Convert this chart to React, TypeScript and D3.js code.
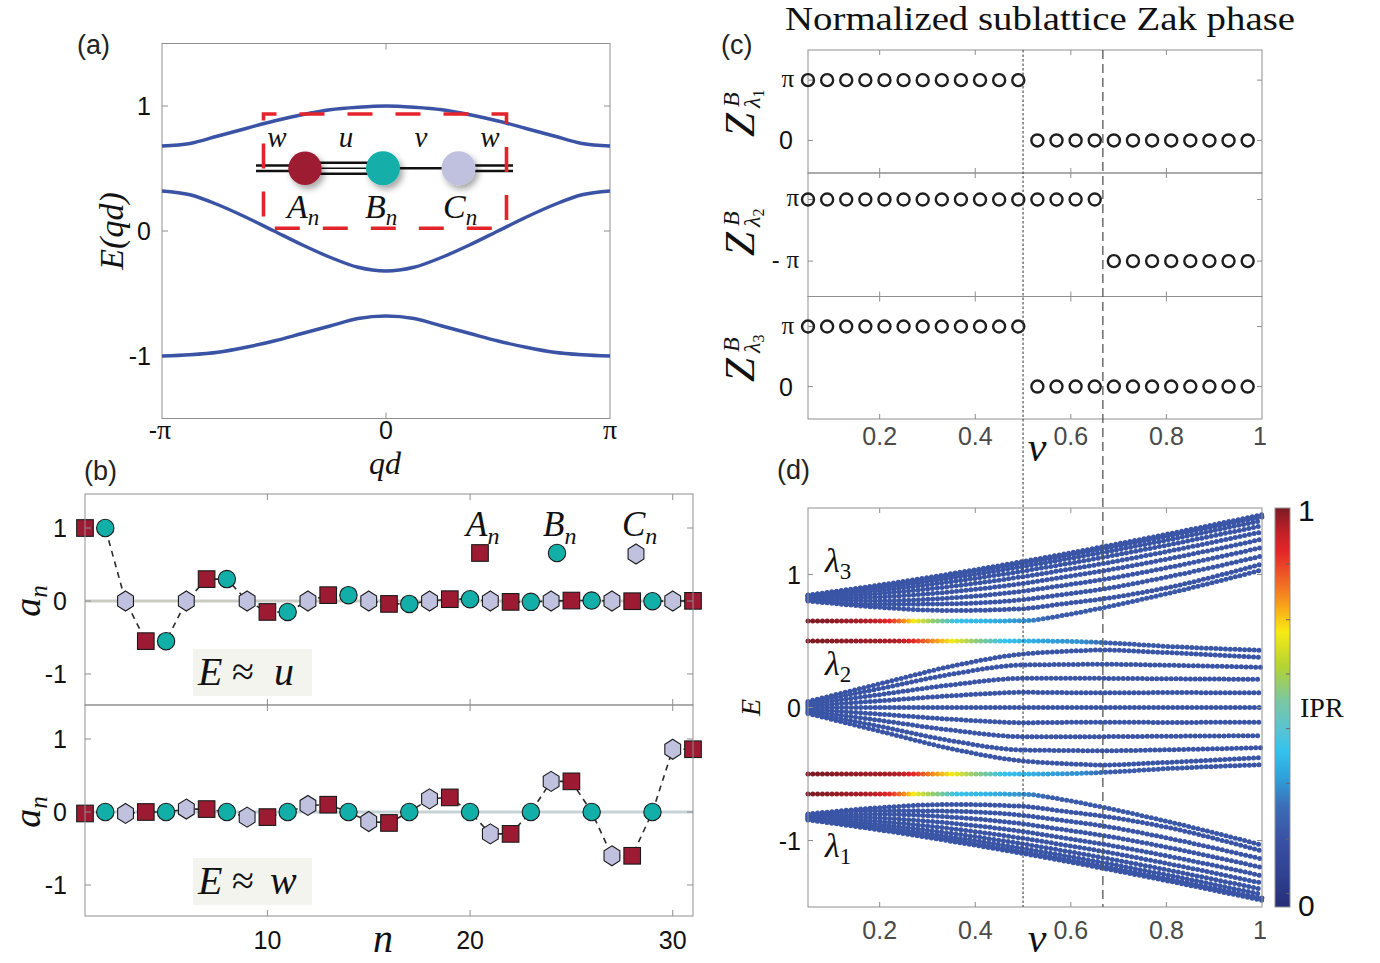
import React from 'react';
import * as d3 from 'd3';

// ---------- (a) bulk bands, qd in units of pi ----------
const qd = [-1, -0.875, -0.75, -0.625, -0.5, -0.375, -0.25, -0.125, 0, 0.125, 0.25, 0.375, 0.5, 0.625, 0.75, 0.875, 1];
const bandTop = [0.68, 0.70, 0.76, 0.82, 0.88, 0.93, 0.97, 0.99, 1.0, 0.99, 0.97, 0.93, 0.88, 0.82, 0.76, 0.70, 0.68];
const bandMid = [0.32, 0.29, 0.21, 0.11, 0.0, -0.11, -0.21, -0.29, -0.32, -0.29, -0.21, -0.11, 0.0, 0.11, 0.21, 0.29, 0.32];
const bandBot = [-1.0, -0.99, -0.97, -0.93, -0.88, -0.82, -0.76, -0.70, -0.68, -0.70, -0.76, -0.82, -0.88, -0.93, -0.97, -0.99, -1.0];

// ---------- (b) edge-mode amplitudes ----------
const sites = [1, 2, 3, 4, 5, 6, 7, 8, 9, 10, 11, 12, 13, 14, 15, 16, 17, 18, 19, 20, 21, 22, 23, 24, 25, 26, 27, 28, 29, 30, 31];
const kinds = 'ABCABCABCABCABCABCABCABCABCABCA'.split('');
const ampU = [1.0, 1.0, 0, -0.55, -0.55, 0, 0.3, 0.3, 0, -0.15, -0.15, 0, 0.08, 0.08, 0, -0.04, -0.04, 0, 0.025, 0.025, 0, -0.012, -0.012, 0, 0.006, 0.006, 0, -0.003, -0.003, 0, 0.002];
const ampW = [-0.02, 0, -0.02, 0.0, 0, 0.04, 0.04, 0, -0.07, -0.07, 0, 0.09, 0.1, 0, -0.13, -0.15, 0, 0.18, 0.2, 0, -0.3, -0.3, 0, 0.42, 0.42, 0, -0.6, -0.6, 0, 0.86, 0.86];

// ---------- (c) sublattice Zak phase (units of pi) ----------
const vZak = [0.05, 0.09, 0.13, 0.17, 0.21, 0.25, 0.29, 0.33, 0.37, 0.41, 0.45, 0.49, 0.53, 0.57, 0.61, 0.65, 0.69, 0.73, 0.77, 0.81, 0.85, 0.89, 0.93, 0.97];
const zak1 = [1, 1, 1, 1, 1, 1, 1, 1, 1, 1, 1, 1, 0, 0, 0, 0, 0, 0, 0, 0, 0, 0, 0, 0];
const zak2 = [1, 1, 1, 1, 1, 1, 1, 1, 1, 1, 1, 1, 1, 1, 1, 1, -1, -1, -1, -1, -1, -1, -1, -1];
const zak3 = [1, 1, 1, 1, 1, 1, 1, 1, 1, 1, 1, 1, 0, 0, 0, 0, 0, 0, 0, 0, 0, 0, 0, 0];
const vCritical = [0.5, 0.667];

// ---------- (d) finite-chain spectrum vs v ----------
const vGrid = [0.05, 0.2, 0.35, 0.5, 0.58, 0.667, 0.8, 1.0];
const bandL3 = [
  [0.845, 0.921, 1.006, 1.098, 1.150, 1.209, 1.302, 1.450],
  [0.842, 0.913, 0.994, 1.084, 1.135, 1.193, 1.286, 1.433],
  [0.837, 0.898, 0.974, 1.060, 1.110, 1.166, 1.258, 1.406],
  [0.832, 0.880, 0.946, 1.026, 1.074, 1.129, 1.220, 1.367],
  [0.825, 0.857, 0.911, 0.984, 1.030, 1.082, 1.172, 1.320],
  [0.818, 0.831, 0.870, 0.933, 0.977, 1.027, 1.115, 1.265],
  [0.812, 0.803, 0.824, 0.875, 0.916, 0.962, 1.050, 1.203],
  [0.806, 0.776, 0.780, 0.811, 0.848, 0.890, 0.980, 1.139],
  [0.801, 0.753, 0.729, 0.743, 0.778, 0.817, 0.900, 1.080],
];
const bandL2 = [
  [0.045, 0.178, 0.310, 0.402, 0.420, 0.432, 0.413, 0.377],
  [0.036, 0.142, 0.250, 0.320, 0.323, 0.325, 0.318, 0.302],
  [0.025, 0.097, 0.170, 0.219, 0.219, 0.219, 0.216, 0.212],
  [0.013, 0.050, 0.088, 0.114, 0.112, 0.111, 0.112, 0.111],
  [0, 0, 0, 0, 0, 0, 0, 0],
  [-0.013, -0.050, -0.088, -0.114, -0.112, -0.111, -0.112, -0.111],
  [-0.025, -0.097, -0.170, -0.219, -0.219, -0.219, -0.216, -0.212],
  [-0.036, -0.142, -0.250, -0.320, -0.323, -0.325, -0.318, -0.302],
  [-0.045, -0.178, -0.310, -0.402, -0.420, -0.432, -0.413, -0.377],
];
const bandL1 = [
  [-0.845, -0.921, -1.006, -1.098, -1.150, -1.209, -1.302, -1.450],
  [-0.842, -0.913, -0.994, -1.084, -1.135, -1.193, -1.286, -1.433],
  [-0.837, -0.898, -0.974, -1.060, -1.110, -1.166, -1.258, -1.406],
  [-0.832, -0.880, -0.946, -1.026, -1.074, -1.129, -1.220, -1.367],
  [-0.825, -0.857, -0.911, -0.984, -1.030, -1.082, -1.172, -1.320],
  [-0.818, -0.831, -0.870, -0.933, -0.977, -1.027, -1.115, -1.265],
  [-0.812, -0.803, -0.824, -0.875, -0.916, -0.962, -1.050, -1.203],
  [-0.806, -0.776, -0.780, -0.811, -0.848, -0.890, -0.980, -1.139],
  [-0.801, -0.753, -0.729, -0.743, -0.778, -0.817, -0.900, -1.080],
];
// edge states: outer (E ~ +-u) and inner (E ~ +-w)
const edgeOuterTop = [0.650, 0.650, 0.650, 0.652, 0.690, 0.750, 0.855, 1.034];
const edgeInnerTop = [0.500, 0.500, 0.500, 0.500, 0.498, 0.488, 0.460, 0.430];
const edgeInnerBot = [-0.500, -0.500, -0.500, -0.500, -0.498, -0.488, -0.460, -0.430];
const edgeOuterBot = [-0.650, -0.650, -0.650, -0.652, -0.690, -0.750, -0.855, -1.034];
// IPR of the edge states along v
const vIprOuter = [0.05, 0.17, 0.22, 0.25, 0.27, 0.31, 0.36, 0.43, 0.5, 0.56, 1.0];
const iprOuter = [1.0, 0.96, 0.89, 0.78, 0.69, 0.56, 0.40, 0.36, 0.30, 0.2, 0.18];
const vIprInner = [0.05, 0.23, 0.27, 0.31, 0.35, 0.40, 0.46, 0.55, 0.62, 0.68, 1.0];
const iprInner = [1.0, 0.96, 0.89, 0.78, 0.69, 0.55, 0.39, 0.33, 0.30, 0.2, 0.18];
const iprBulk = 0.18;

// colormap of the IPR colorbar
const cmapStops = [0, 0.08, 0.17, 0.25, 0.32, 0.39, 0.45, 0.52, 0.6, 0.69, 0.75, 0.8, 0.89, 0.95, 1];
const cmapColors = ['#262d78', '#2f4190', '#3a52a4', '#3c6cb6', '#2f9ed9', '#33c2ee', '#5bc4d0', '#7cc79f', '#b2d235', '#f8ea14', '#f9a81a', '#f27523', '#e52629', '#b71f27', '#7a1b25'];
const cbTicks = [0.034, 0.17, 0.31, 0.447, 0.584, 0.72, 0.86];

const SANS = "'Liberation Sans', Arial, sans-serif";
const SERIF = "'Liberation Serif', 'Times New Roman', serif";
const AXIS = '#8f8f8f';
const BLUE = '#3a53a4';
const KIND_FILL: any = { A: '#9d1b32', B: '#12aea8', C: '#bfc1de' };

const ipr = d3.scaleLinear<string>().domain(cmapStops).range(cmapColors).interpolate(d3.interpolateRgb).clamp(true);

// scales
const xA = d3.scaleLinear().domain([-1, 1]).range([162, 610]);
const yA = d3.scaleLinear().domain([-1.5, 1.5]).range([418.5, 43.5]);
const xB = d3.scaleLinear().domain([1, 31]).range([85, 693]);
const yB1 = d3.scaleLinear().domain([-1.425, 1.466]).range([705, 494]);
const yB2 = d3.scaleLinear().domain([-1.425, 1.466]).range([916, 705]);
const xC = d3.scaleLinear().domain([0.05, 1]).range([808, 1262]);
const yC1 = d3.scaleLinear().domain([-0.54, 1.5]).range([173, 50]);
const yC2 = d3.scaleLinear().domain([-2.15, 1.86]).range([296.5, 173]);
const yC3 = d3.scaleLinear().domain([-0.54, 1.5]).range([419, 296.5]);
const yD = d3.scaleLinear().domain([-1.5, 1.5]).range([907, 508]);
const cbY = d3.scaleLinear().domain([0, 1]).range([907, 508]);

const Frame = ({ x0, x1, y0, y1, xs = [], ys = [], len = 6 }: any) => (
  <g stroke={AXIS} strokeWidth={1} fill="none">
    <rect x={x0} y={y0} width={x1 - x0} height={y1 - y0} />
    {xs.map((x: number, i: number) => (
      <g key={'x' + i}>
        <line x1={x} x2={x} y1={y1} y2={y1 - len} />
        <line x1={x} x2={x} y1={y0} y2={y0 + len} />
      </g>
    ))}
    {ys.map((y: number, i: number) => (
      <g key={'y' + i}>
        <line x1={x0} x2={x0 + len} y1={y} y2={y} />
        <line x1={x1} x2={x1 - len} y1={y} y2={y} />
      </g>
    ))}
  </g>
);

const Marker = ({ kind, x, y }: any) => {
  const common = { fill: KIND_FILL[kind], stroke: '#1a1a1a', strokeWidth: 1.1 };
  if (kind === 'A') return <rect x={x - 8.3} y={y - 8.3} width={16.6} height={16.6} {...common} />;
  if (kind === 'B') return <circle cx={x} cy={y} r={8.7} {...common} />;
  const hex = [[0, -10], [7.9, -5], [7.9, 5], [0, 10], [-7.9, 5], [-7.9, -5]].map(p => `${x + p[0]},${y + p[1]}`).join(' ');
  return <polygon points={hex} {...common} />;
};

const Sub = ({ x, y, main, sub, size, subSize, upright = false }: any) => (
  <text x={x} y={y} fontFamily={SERIF} fontStyle="italic" fontSize={size} fill="#111">
    {main}
    <tspan fontSize={subSize} dy={size * 0.22} fontStyle={upright ? 'normal' : 'italic'}>{sub}</tspan>
  </text>
);

const ZakLabel = ({ x, y, idx }: any) => (
  <g transform={`translate(${x},${y}) rotate(-90)`} fontFamily={SERIF} fill="#111">
    <text x={0} y={0} fontSize={43} fontStyle="italic">Z</text>
    <text x={30} y={-15} fontSize={24} fontStyle="italic">B</text>
    <text x={29} y={6} fontSize={24} fontStyle="italic">λ<tspan fontSize={16} fontStyle="normal" dy={4}>{idx}</tspan></text>
  </g>
);

function ModePanel({ amp, yS, boxText, boxY, lineColor }: any) {
  const line = d3.line<number>().x((_, i) => xB(sites[i])).y(d => yS(d));
  return (
    <g>
      <line x1={85} x2={693} y1={yS(0)} y2={yS(0)} stroke={lineColor} strokeWidth={3} />
      <path d={line(amp) || ''} fill="none" stroke="#2a2a2a" strokeWidth={1.6} strokeDasharray="6 5" />
      {amp.map((a: number, i: number) => <Marker key={i} kind={kinds[i]} x={xB(sites[i])} y={yS(a)} />)}
      <rect x={193} y={boxY} width={119} height={47} fill="#f4f4ef" />
      <g fontFamily={SERIF} fontSize={40} fill="#111">
        <text x={198} y={boxY + 36} fontStyle="italic">E</text>
        <text x={232} y={boxY + 36}>≈</text>
        <text x={boxText === 'w' ? 270 : 274} y={boxY + 36} fontStyle="italic">{boxText}</text>
      </g>
    </g>
  );
}

export default function App() {
  const lineA = d3.line<number>().x((_, i) => xA(qd[i])).y(d => yA(d)).curve(d3.curveMonotoneX);
  const lineD = d3.line<number>().x((_, i) => xC(vGrid[i])).y(d => yD(d)).curve(d3.curveMonotoneX);
  const zakRows = [
    { vals: zak1, y: yC1, ticks: [1, 0], labels: ['π', '0'], idx: '1', ly: 137 },
    { vals: zak2, y: yC2, ticks: [1, -1], labels: ['π', '-π'], idx: '2', ly: 256 },
    { vals: zak3, y: yC3, ticks: [1, 0], labels: ['π', '0'], idx: '3', ly: 382 },
  ];
  const xTicksC = [0.2, 0.4, 0.6, 0.8, 1];
  const bulkColor = ipr(iprBulk);
  const dotStyle = { fill: 'none', strokeWidth: 5, strokeLinecap: 'round' as const, strokeDasharray: '0 4.8' };

  return (
    <svg width={1380} height={963} style={{ position: 'absolute', left: 0, top: 0, background: '#fff' }}>
      <defs>
        <filter id="shadow" x="-50%" y="-50%" width="200%" height="200%">
          <feDropShadow dx={3} dy={4} stdDeviation={3} floodColor="#000" floodOpacity={0.35} />
        </filter>
        <linearGradient id="gOuter" gradientUnits="userSpaceOnUse" x1={xC(0.05)} x2={xC(1)} y1={0} y2={0}>
          {vIprOuter.map((v, i) => <stop key={i} offset={(v - 0.05) / 0.95} stopColor={ipr(iprOuter[i])} />)}
        </linearGradient>
        <linearGradient id="gInner" gradientUnits="userSpaceOnUse" x1={xC(0.05)} x2={xC(1)} y1={0} y2={0}>
          {vIprInner.map((v, i) => <stop key={i} offset={(v - 0.05) / 0.95} stopColor={ipr(iprInner[i])} />)}
        </linearGradient>
        <linearGradient id="gBar" gradientUnits="userSpaceOnUse" x1={0} x2={0} y1={cbY(0)} y2={cbY(1)}>
          {cmapStops.map((s, i) => <stop key={i} offset={s} stopColor={cmapColors[i]} />)}
        </linearGradient>
      </defs>

      {/* ================= (a) ================= */}
      <text x={77} y={54} fontFamily={SANS} fontSize={27} fill="#222">(a)</text>
      <Frame x0={162} x1={610} y0={43.5} y1={418.5} xs={[xA(0)]} ys={[yA(1), yA(0), yA(-1)]} />
      {[bandTop, bandMid, bandBot].map((b, i) => (
        <path key={i} d={lineA(b) || ''} fill="none" stroke={BLUE} strokeWidth={3.4} />
      ))}
      {/* inset: trimer chain */}
      <g stroke="#111" strokeWidth={2.6}>
        <line x1={256} x2={300} y1={165.5} y2={165.5} />
        <line x1={256} x2={300} y1={171} y2={171} />
        <line x1={305} x2={383} y1={162.8} y2={162.8} />
        <line x1={305} x2={383} y1={168.3} y2={168.3} strokeWidth={1.6} />
        <line x1={305} x2={383} y1={173.8} y2={173.8} />
        <line x1={383} x2={458} y1={168.3} y2={168.3} />
        <line x1={458} x2={513} y1={165.5} y2={165.5} />
        <line x1={458} x2={513} y1={171} y2={171} />
      </g>
      <g filter="url(#shadow)">
        <circle cx={305} cy={168.3} r={16.7} fill={KIND_FILL.A} />
        <circle cx={383} cy={168.3} r={17} fill={KIND_FILL.B} />
        <circle cx={458.5} cy={168.3} r={17} fill={KIND_FILL.C} />
      </g>
      <path d="M263.5,114 H506.5 V228.3 H263.5 Z" fill="none" stroke="#e3242b" strokeWidth={3.6} strokeDasharray="25 23" strokeDashoffset={12} />
      {[['w', 277], ['u', 346], ['v', 421], ['w', 490]].map(([t, x], i) => (
        <text key={i} x={x as number} y={147} textAnchor="middle" fontFamily={SERIF} fontStyle="italic" fontSize={29} fill="#111">{t}</text>
      ))}
      <Sub x={287} y={218} main="A" sub="n" size={34} subSize={23} />
      <Sub x={365} y={218} main="B" sub="n" size={34} subSize={23} />
      <Sub x={443} y={218} main="C" sub="n" size={34} subSize={23} />
      {/* axes text */}
      <g fontFamily={SANS} fontSize={25} fill="#111" textAnchor="end">
        <text x={151} y={yA(1) + 9}>1</text>
        <text x={151} y={yA(0) + 9}>0</text>
        <text x={151} y={yA(-1) + 9}>-1</text>
      </g>
      <text x={xA(-1) - 2} y={439} textAnchor="middle" fill="#111">
        <tspan fontFamily={SANS} fontSize={25}>-</tspan><tspan fontFamily={SERIF} fontSize={28}>π</tspan>
      </text>
      <text x={xA(0)} y={439} textAnchor="middle" fontFamily={SANS} fontSize={25} fill="#111">0</text>
      <text x={xA(1)} y={439} textAnchor="middle" fontFamily={SERIF} fontSize={28} fill="#111">π</text>
      <text x={385} y={474} textAnchor="middle" fontFamily={SERIF} fontStyle="italic" fontSize={32} fill="#111">qd</text>
      <text transform="translate(123,231) rotate(-90)" textAnchor="middle" fontFamily={SERIF} fontStyle="italic" fontSize={34} fill="#111">E(qd)</text>

      {/* ================= (b) ================= */}
      <text x={84} y={480} fontFamily={SANS} fontSize={27} fill="#222">(b)</text>
      <ModePanel amp={ampU} yS={yB1} boxText="u" boxY={649} lineColor="#cbcbc6" />
      <ModePanel amp={ampW} yS={yB2} boxText="w" boxY={858} lineColor="#c6d4d7" />
      <Frame x0={85} x1={693} y0={494} y1={705} xs={[10, 20, 30].map(n => xB(n))} ys={[yB1(1), yB1(0), yB1(-1)]} />
      <Frame x0={85} x1={693} y0={705} y1={916} xs={[10, 20, 30].map(n => xB(n))} ys={[yB2(1), yB2(0), yB2(-1)]} />
      {/* legend */}
      <Sub x={466} y={536} main="A" sub="n" size={35} subSize={24} />
      <Sub x={543} y={536} main="B" sub="n" size={35} subSize={24} />
      <Sub x={622} y={536} main="C" sub="n" size={35} subSize={24} />
      <Marker kind="A" x={480} y={553} />
      <Marker kind="B" x={557} y={553} />
      <Marker kind="C" x={636} y={554} />
      <g fontFamily={SANS} fontSize={25} fill="#111" textAnchor="end">
        {[yB1, yB2].map((s, k) => (
          <g key={k}>
            <text x={67} y={s(1) + 9}>1</text>
            <text x={67} y={s(0) + 9}>0</text>
            <text x={67} y={s(-1) + 9}>-1</text>
          </g>
        ))}
      </g>
      <g fontFamily={SANS} fontSize={25} fill="#111" textAnchor="middle">
        {[10, 20, 30].map(n => <text key={n} x={xB(n)} y={949}>{n}</text>)}
      </g>
      <text x={383} y={952} textAnchor="middle" fontFamily={SERIF} fontStyle="italic" fontSize={40} fill="#111">n</text>
      {[yB1(0), yB2(0)].map((y, k) => (
        <text key={k} transform={`translate(40,${y}) rotate(-90)`} textAnchor="middle" fontFamily={SERIF} fontStyle="italic" fontSize={38} fill="#111">
          a<tspan fontSize={25} dy={7}>n</tspan>
        </text>
      ))}

      {/* ================= (c) ================= */}
      <text x={1040} y={30} textAnchor="middle" fontFamily={SERIF} fontSize={34} textLength={510} lengthAdjust="spacingAndGlyphs" fill="#111">Normalized sublattice Zak phase</text>
      <text x={721} y={54} fontFamily={SANS} fontSize={27} fill="#222">(c)</text>
      {zakRows.map((row, r) => {
        const [r0, r1] = row.y.range();
        return (
          <g key={r}>
            <Frame x0={808} x1={1262} y0={r1} y1={r0} xs={xTicksC.slice(0, 4).map(v => xC(v))} ys={row.ticks.map(t => row.y(t))} len={5} />
            {row.vals.map((z, i) => (
              <circle key={i} cx={xC(vZak[i])} cy={row.y(z)} r={6} fill="none" stroke="#1e1e1e" strokeWidth={2.4} />
            ))}
            {row.labels.map((lab, j) => (
              lab === '0'
                ? <text key={j} x={793} y={row.y(row.ticks[j]) + 9} textAnchor="end" fontFamily={SANS} fontSize={25} fill="#111">0</text>
                : <text key={j} x={r === 1 ? 799 : 794} y={row.y(row.ticks[j]) + 7} textAnchor="end" fill="#111">
                    {lab.startsWith('-') ? <tspan fontFamily={SANS} fontSize={24}>- </tspan> : null}
                    <tspan fontFamily={SERIF} fontSize={25}>π</tspan>
                  </text>
            ))}
            <ZakLabel x={754} y={row.ly} idx={row.idx} />
          </g>
        );
      })}
      <g fontFamily={SANS} fontSize={25} fill="#4a4a4a" textAnchor="middle">
        {xTicksC.map(v => <text key={v} x={xC(v) - (v === 1 ? 2 : 0)} y={445}>{v === 1 ? '1' : v.toFixed(1)}</text>)}
      </g>
      <text x={1037} y={461} textAnchor="middle" fontFamily={SERIF} fontStyle="italic" fontSize={42} fill="#111">v</text>

      {/* ================= (d) ================= */}
      <text x={777} y={479} fontFamily={SANS} fontSize={27} fill="#222">(d)</text>
      {[...bandL3, ...bandL2, ...bandL1].map((c, i) => (
        <path key={i} d={lineD(c) || ''} stroke={bulkColor} {...dotStyle} />
      ))}
      <path d={lineD(edgeOuterTop) || ''} stroke="url(#gOuter)" {...dotStyle} />
      <path d={lineD(edgeOuterBot) || ''} stroke="url(#gOuter)" {...dotStyle} />
      <path d={lineD(edgeInnerTop) || ''} stroke="url(#gInner)" {...dotStyle} />
      <path d={lineD(edgeInnerBot) || ''} stroke="url(#gInner)" {...dotStyle} />
      <Frame x0={808} x1={1262} y0={508} y1={907} xs={xTicksC.slice(0, 4).map(v => xC(v))} ys={[yD(1), yD(0), yD(-1)]} len={5} />
      <g fontFamily={SANS} fontSize={25} fill="#111" textAnchor="end">
        <text x={801} y={yD(1) + 9}>1</text>
        <text x={801} y={yD(0) + 9}>0</text>
        <text x={801} y={yD(-1) + 9}>-1</text>
      </g>
      <g fontFamily={SANS} fontSize={25} fill="#4a4a4a" textAnchor="middle">
        {xTicksC.map(v => <text key={v} x={xC(v) - (v === 1 ? 2 : 0)} y={939}>{v === 1 ? '1' : v.toFixed(1)}</text>)}
      </g>
      <text x={1037} y={952} textAnchor="middle" fontFamily={SERIF} fontStyle="italic" fontSize={42} fill="#111">v</text>
      <text transform={`translate(760,${yD(0)}) rotate(-90)`} textAnchor="middle" fontFamily={SERIF} fontStyle="italic" fontSize={28} fill="#111">E</text>
      <Sub x={825} y={572} main="λ" sub="3" size={34} subSize={23} upright />
      <Sub x={825} y={675} main="λ" sub="2" size={34} subSize={23} upright />
      <Sub x={825} y={857} main="λ" sub="1" size={34} subSize={23} upright />

      {/* critical lines through (c) and (d) */}
      <line x1={xC(vCritical[0])} x2={xC(vCritical[0])} y1={50} y2={907} stroke="#444" strokeWidth={1.1} strokeDasharray="2.5 2" />
      <line x1={xC(vCritical[1])} x2={xC(vCritical[1])} y1={50} y2={907} stroke="#555" strokeWidth={1.3} strokeDasharray="9 5" />

      {/* colorbar */}
      <rect x={1275} y={508} width={15} height={399} fill="url(#gBar)" stroke={AXIS} strokeWidth={1} />
      {cbTicks.map((t, i) => (
        <line key={i} x1={1290} x2={1286} y1={cbY(t)} y2={cbY(t)} stroke="#666" strokeWidth={1} />
      ))}
      <text x={1298} y={521} fontFamily={SANS} fontSize={30} fill="#111">1</text>
      <text x={1298} y={916} fontFamily={SANS} fontSize={30} fill="#111">0</text>
      <text x={1300} y={717} fontFamily={SERIF} fontSize={28} fill="#111">IPR</text>
    </svg>
  );
}
